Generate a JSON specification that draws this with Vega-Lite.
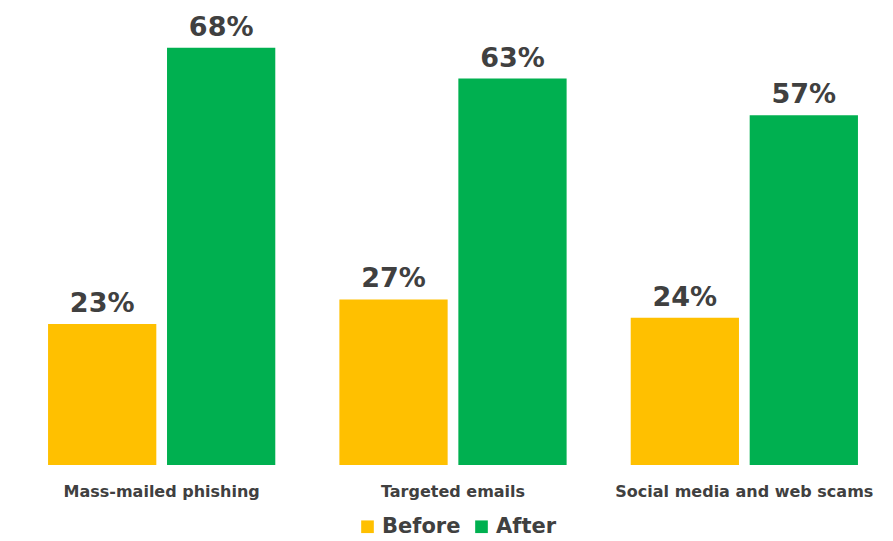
{
  "$schema": "https://vega.github.io/schema/vega-lite/v6.json",
  "width": 874,
  "height": 457,
  "autosize": {"type": "none"},
  "padding": {"left": 16, "top": 8, "right": 3, "bottom": 76},
  "background": "white",
  "config": {"view": {"stroke": null}},
  "data": {
    "values": [
      {"category": "Mass-mailed phishing", "period": "Before", "value": 0.23},
      {"category": "Mass-mailed phishing", "period": "After", "value": 0.68},
      {"category": "Targeted emails", "period": "Before", "value": 0.27},
      {"category": "Targeted emails", "period": "After", "value": 0.63},
      {"category": "Social media and web scams", "period": "Before", "value": 0.24},
      {"category": "Social media and web scams", "period": "After", "value": 0.57}
    ]
  },
  "encoding": {
    "x": {
      "field": "category",
      "type": "nominal",
      "sort": ["Mass-mailed phishing", "Targeted emails", "Social media and web scams"],
      "scale": {"paddingInner": 0.22, "paddingOuter": 0.11},
      "axis": {
        "title": null,
        "domain": false,
        "ticks": false,
        "labelAngle": 0,
        "labelLimit": 0,
        "labelFont": "DejaVu Sans",
        "labelFontWeight": "bold",
        "labelFontSize": 16,
        "labelColor": "#404040",
        "labelPadding": 18,
        "labelBaseline": "top"
      }
    },
    "xOffset": {
      "field": "period",
      "type": "nominal",
      "sort": ["Before", "After"],
      "scale": {"paddingInner": 0.09, "paddingOuter": 0}
    },
    "y": {
      "field": "value",
      "type": "quantitative",
      "scale": {"domain": [0, 0.745]},
      "axis": null
    }
  },
  "layer": [
    {
      "mark": {"type": "bar", "strokeWidth": 0},
      "encoding": {
        "color": {
          "field": "period",
          "type": "nominal",
          "sort": ["Before", "After"],
          "scale": {"domain": ["Before", "After"], "range": ["#FFC000", "#00B050"]},
          "legend": {
            "title": null,
            "orient": "none",
            "legendX": 341,
            "legendY": 508,
            "direction": "horizontal",
            "symbolType": "square",
            "symbolSize": 160,
            "symbolStrokeWidth": 0,
            "labelFont": "DejaVu Sans",
            "labelFontWeight": "bold",
            "labelFontSize": 21,
            "labelColor": "#404040",
            "labelOffset": 4,
            "columnPadding": 10,
            "padding": 0
          }
        }
      }
    },
    {
      "mark": {
        "type": "text",
        "baseline": "alphabetic",
        "dy": -12,
        "font": "DejaVu Sans",
        "fontWeight": "bold",
        "fontSize": 27,
        "color": "#404040"
      },
      "encoding": {
        "text": {"field": "value", "type": "quantitative", "format": ".0%"}
      }
    }
  ]
}
